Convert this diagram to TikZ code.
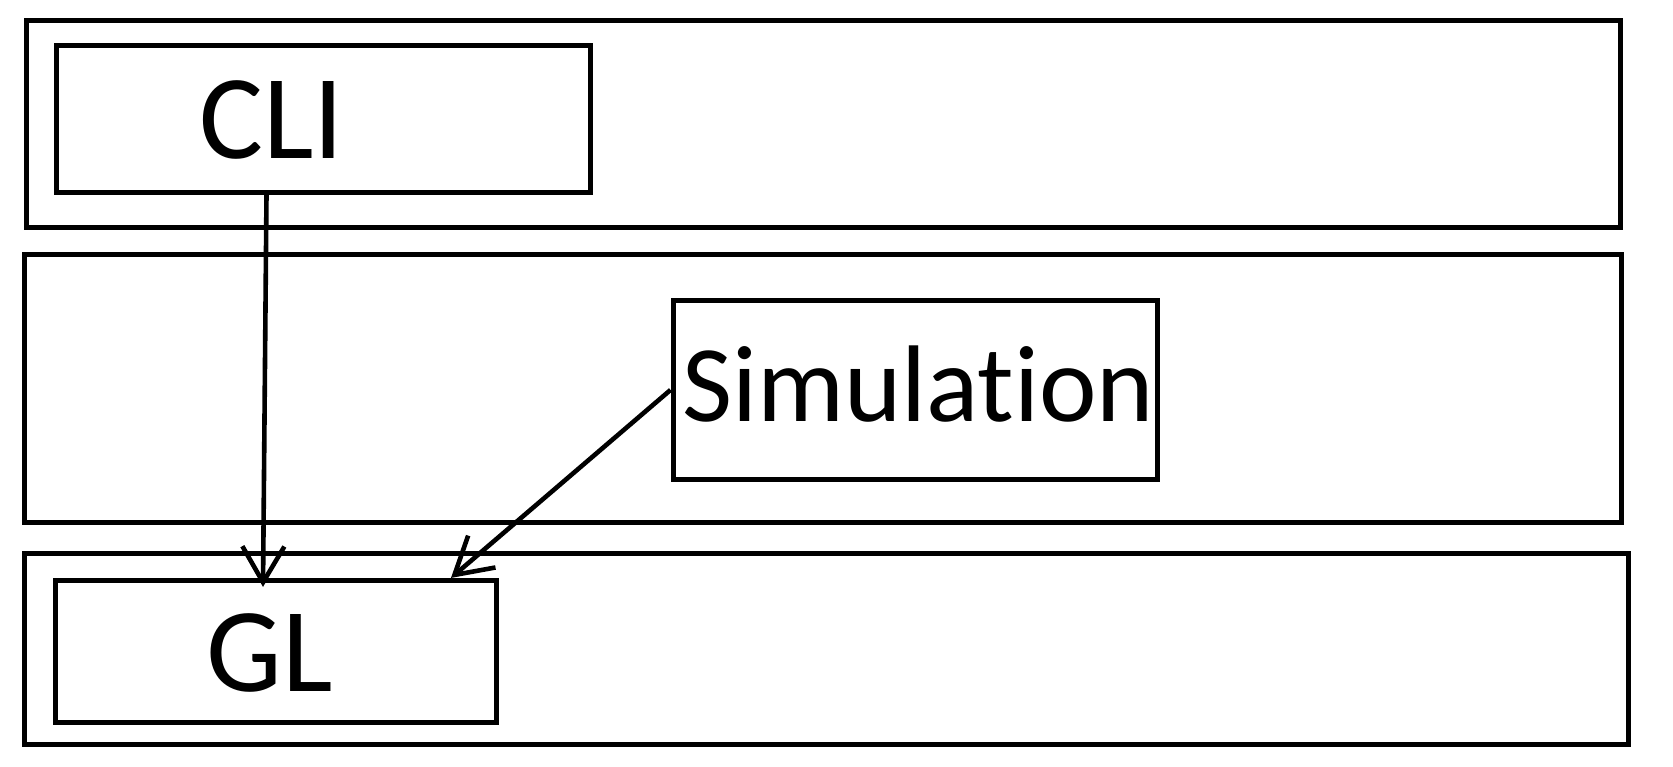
\documentclass[tikz,border=0pt]{standalone}
\usepackage{fontspec}
\setmainfont[Ligatures=NoCommon]{Carlito}
\usetikzlibrary{fit,calc,arrows.meta}
\begin{document}
\begin{tikzpicture}[x=0.5pt,y=-0.5pt,
  frame/.style={draw=black,line width=2.5pt,inner sep=0pt,rectangle},
  label/.style={inner sep=0pt,anchor=base west},
  big/.style={font=\fontsize{60}{64}\selectfont},
  mid/.style={font=\fontsize{54.5}{58}\selectfont},
  arr/.style={draw=black,line width=2.3pt,-{Straight Barb[length=18pt,width=21pt,line width=2.3pt]}}]
\useasboundingbox (0,0) rectangle (1673,766);
% layers
\coordinate (l1a) at (26.5,20.8);  \coordinate (l1b) at (1620.7,227.3);
\coordinate (l2a) at (24.5,254);   \coordinate (l2b) at (1621.8,522.8);
\coordinate (l3a) at (24.5,553.8); \coordinate (l3b) at (1628.2,744.8);
\node[frame,fit=(l1a)(l1b)] (layer1) {};
\node[frame,fit=(l2a)(l2b)] (layer2) {};
\node[frame,fit=(l3a)(l3b)] (layer3) {};
% components
\coordinate (c1) at (56.5,45.8);  \coordinate (c2) at (590,192);
\coordinate (s1) at (673,300.9);  \coordinate (s2) at (1157.6,479);
\coordinate (g1) at (55.5,580.4); \coordinate (g2) at (496,722.4);
\node[frame,fit=(c1)(c2)] (cli) {};
\node[frame,fit=(s1)(s2)] (sim) {};
\node[frame,fit=(g1)(g2)] (gl) {};
\node[label,big] (clit) at (199,158) {CLI};
\node[label,mid] (simt) at (682,421.5) {Simulation};
\node[label,big] (glt) at (206,691.5) {GL};
% connectors
\draw[arr] ($(cli.south west)+(212.5,0)$) -- ($(gl.north west)+(210,9)$);
\draw[arr] (sim.west) -- ($(gl.north west)+(398,0)$);
\end{tikzpicture}
\end{document}
